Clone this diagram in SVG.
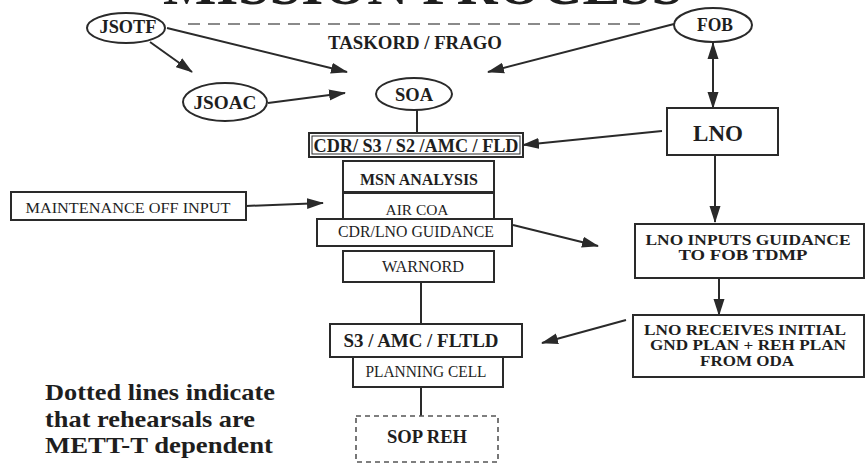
<svg xmlns="http://www.w3.org/2000/svg" width="866" height="463" viewBox="0 0 866 463">
<defs>
<style>
.bg{fill:#ffffff}
.box{fill:#ffffff;stroke:#2a2a2a;stroke-width:2}
.inner{fill:none;stroke:#2a2a2a;stroke-width:1}
.dash{fill:#ffffff;stroke:#555;stroke-width:1.6;stroke-dasharray:5 4}
.ell{fill:#ffffff;stroke:#2a2a2a;stroke-width:2}
.t{font-family:"Liberation Serif","Times New Roman",serif;fill:#1e1e1e;text-anchor:middle}
.b{font-weight:bold}
.ln{stroke:#2a2a2a;stroke-width:2;fill:none}
.arr{stroke:#2a2a2a;stroke-width:2;fill:none;marker-end:url(#ah)}
.note{font-family:"Liberation Serif","Times New Roman",serif;font-weight:bold;fill:#1e1e1e;font-size:23px}
</style>
<marker id="ah" markerUnits="userSpaceOnUse" markerWidth="17" markerHeight="12" refX="16" refY="6" orient="auto-start-reverse">
<path d="M0,0.5 L17,6 L0,11.5 Z" fill="#2a2a2a"/>
</marker>
</defs>
<rect class="bg" x="0" y="0" width="866" height="463"/>

<g id="title">
<text class="t b" x="423" y="4" font-size="56" textLength="520" lengthAdjust="spacingAndGlyphs" fill="#2a2a2a">MISSION PROCESS</text>
<line x1="188" y1="24" x2="643" y2="24" stroke="#8a8a8a" stroke-width="1.8" stroke-dasharray="12 8"/>
<text class="t b" x="415" y="49" font-size="18" textLength="174" lengthAdjust="spacingAndGlyphs">TASKORD / FRAGO</text>
</g>

<g id="connectors">
<line class="arr" x1="167" y1="28" x2="347" y2="72"/>
<line class="arr" x1="150" y1="42" x2="192" y2="72"/>
<line class="arr" x1="268" y1="103" x2="345" y2="93"/>
<line class="arr" x1="674" y1="24" x2="488" y2="72"/>
<line class="arr" x1="713" y1="43" x2="713" y2="108" marker-start="url(#ah)"/>
<line class="arr" x1="662" y1="131" x2="523" y2="145"/>
<line class="ln" x1="417" y1="110" x2="417" y2="133"/>
<line class="arr" x1="246" y1="206" x2="323" y2="203"/>
<line class="arr" x1="513" y1="225" x2="598" y2="246"/>
<line class="arr" x1="715" y1="155" x2="715" y2="222"/>
<line class="arr" x1="719" y1="278" x2="719" y2="315"/>
<line class="arr" x1="626" y1="320" x2="542" y2="343"/>
<line class="ln" x1="421" y1="282" x2="421" y2="324"/>
<line class="ln" x1="421" y1="387" x2="421" y2="416"/>
</g>

<g id="jsotf">
<ellipse class="ell" cx="126" cy="28" rx="39" ry="15"/>
<text class="t b" x="128" y="33" font-size="18" textLength="57" lengthAdjust="spacingAndGlyphs">JSOTF</text>
</g>
<g id="jsoac">
<ellipse class="ell" cx="225" cy="102" rx="42" ry="19"/>
<text class="t b" x="225" y="109" font-size="18" textLength="63" lengthAdjust="spacingAndGlyphs">JSOAC</text>
</g>
<g id="soa">
<ellipse class="ell" cx="414" cy="94" rx="38" ry="16"/>
<text class="t b" x="414" y="101" font-size="18" textLength="38" lengthAdjust="spacingAndGlyphs">SOA</text>
</g>
<g id="fob">
<ellipse class="ell" cx="713" cy="25" rx="39" ry="17"/>
<text class="t b" x="715" y="31" font-size="18" textLength="36" lengthAdjust="spacingAndGlyphs">FOB</text>
</g>

<g id="lno">
<rect class="box" x="667" y="108" width="111" height="47"/>
<text class="t b" x="718" y="141" font-size="23" textLength="50" lengthAdjust="spacingAndGlyphs">LNO</text>
</g>

<g id="cdr">
<rect class="box" x="309" y="133" width="214" height="24"/>
<rect class="inner" x="312" y="136" width="208" height="18"/>
<text class="t b" x="416" y="152" font-size="18" textLength="205" lengthAdjust="spacingAndGlyphs">CDR/ S3 / S2 /AMC / FLD</text>
</g>

<g id="msn">
<rect class="box" x="343" y="161" width="151" height="31"/>
<text class="t b" x="419" y="185" font-size="16" textLength="118" lengthAdjust="spacingAndGlyphs">MSN ANALYSIS</text>
</g>
<g id="aircoa">
<rect class="box" x="343" y="193" width="151" height="30"/>
<text class="t" x="417" y="215" font-size="15" textLength="63" lengthAdjust="spacingAndGlyphs">AIR COA</text>
</g>
<g id="guidance">
<rect class="box" x="317" y="219" width="195" height="27"/>
<text class="t" x="416" y="237" font-size="16" textLength="156" lengthAdjust="spacingAndGlyphs">CDR/LNO GUIDANCE</text>
</g>
<g id="warnord">
<rect class="box" x="343" y="251" width="151" height="31"/>
<text class="t" x="423" y="272" font-size="16" textLength="82" lengthAdjust="spacingAndGlyphs">WARNORD</text>
</g>

<g id="maint">
<rect class="box" x="11" y="192" width="235" height="28"/>
<text class="t" x="128" y="213" font-size="15" textLength="205" lengthAdjust="spacingAndGlyphs">MAINTENANCE OFF  INPUT</text>
</g>

<g id="s3">
<rect class="box" x="330" y="324" width="192" height="33"/>
<text class="t b" x="421" y="347" font-size="19" textLength="155" lengthAdjust="spacingAndGlyphs">S3 / AMC / FLTLD</text>
</g>
<g id="planning">
<rect class="box" x="353" y="357" width="150" height="30"/>
<text class="t" x="426" y="377" font-size="16" textLength="121" lengthAdjust="spacingAndGlyphs">PLANNING CELL</text>
</g>
<g id="sopreh">
<rect class="dash" x="356" y="416" width="142" height="46"/>
<text class="t b" x="427" y="443" font-size="18" textLength="80" lengthAdjust="spacingAndGlyphs">SOP REH</text>
</g>

<g id="lnoinputs">
<rect class="box" x="635" y="224" width="229" height="54"/>
<text class="t b" x="748" y="245" font-size="15" textLength="205" lengthAdjust="spacingAndGlyphs">LNO INPUTS GUIDANCE</text>
<text class="t b" x="743" y="260" font-size="15" textLength="129" lengthAdjust="spacingAndGlyphs">TO FOB TDMP</text>
</g>

<g id="lnoreceives">
<rect class="box" x="633" y="315" width="231" height="62"/>
<text class="t b" x="745" y="335" font-size="15" textLength="202" lengthAdjust="spacingAndGlyphs">LNO RECEIVES INITIAL</text>
<text class="t b" x="748" y="350" font-size="15" textLength="196" lengthAdjust="spacingAndGlyphs">GND PLAN + REH PLAN</text>
<text class="t b" x="747" y="366" font-size="15" textLength="94" lengthAdjust="spacingAndGlyphs">FROM ODA</text>
</g>

<g id="note">
<text class="note" x="45" y="400" textLength="230" lengthAdjust="spacingAndGlyphs">Dotted lines indicate</text>
<text class="note" x="45" y="427" textLength="210" lengthAdjust="spacingAndGlyphs">that rehearsals are</text>
<text class="note" x="45" y="453" textLength="228" lengthAdjust="spacingAndGlyphs">METT-T dependent</text>
</g>
</svg>
